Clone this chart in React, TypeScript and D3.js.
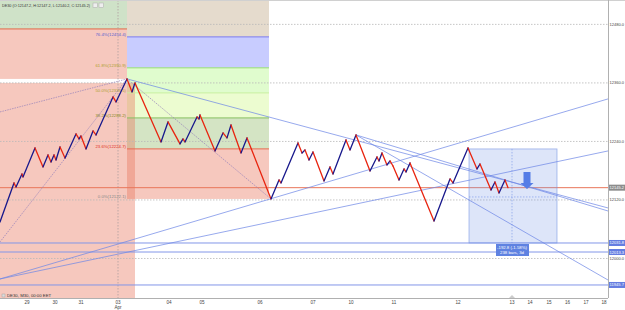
import * as d3 from 'd3'

const W = 625
const H = 310
const plotW = 608
const plotH = 298

// close-price pivots of the renko-like line (bar index, price)
const pivotBars = [0, 5.6, 6.4, 8.8, 9.2, 14, 17.2, 19.2, 20.4, 21.6, 22.4, 24, 26, 30.4, 31.6, 32.4, 34.4, 37.2, 38.4, 45.2, 46.4, 50.8, 52.8, 54, 64.4, 67.2, 72, 73.2, 74, 78.8, 79.6, 80, 86, 89.2, 90.8, 92.4, 96.4, 98.8, 108.4, 111.6, 112.4, 119.2, 120.8, 122, 123.6, 125.2, 129.6, 132, 133.2, 138.4, 140, 142.4, 148, 150.8, 151.6, 152.8, 154.8, 156, 157.2, 159.6, 161.6, 162.4, 164, 173.6, 180, 181.2, 187.2, 190.8, 192, 196.4, 198, 199.6, 202, 203.2]
const pivotPrices = [12074.9, 12154.9, 12146.7, 12173.3, 12167.2, 12226.7, 12187.7, 12212.3, 12197.9, 12212.3, 12202.0, 12228.7, 12206.1, 12255.4, 12245.1, 12251.3, 12224.6, 12261.5, 12253.3, 12331.3, 12321.0, 12368.2, 12341.5, 12360.0, 12239.0, 12280.0, 12234.9, 12245.1, 12239.0, 12290.2, 12286.1, 12294.3, 12220.5, 12257.4, 12247.2, 12273.8, 12216.4, 12247.2, 12122.1, 12161.0, 12154.9, 12236.9, 12216.4, 12222.6, 12202.0, 12218.4, 12159.0, 12187.7, 12173.3, 12243.1, 12222.6, 12253.3, 12179.5, 12208.2, 12200.0, 12216.4, 12191.8, 12200.0, 12189.7, 12161.0, 12183.6, 12177.4, 12195.9, 12076.9, 12163.1, 12154.9, 12226.7, 12183.6, 12193.8, 12140.5, 12156.9, 12134.4, 12161.0, 12145.2]

const gridPrices = [12480, 12360, 12240, 12120, 12000]
const dayLabels = ['29', '30', '31', '03', '04', '05', '06', '07', '10', '11', '12', '13', '14', '15', '16', '17', '18']
const dayBars = [10.8, 22, 32.4, 47.2, 67.6, 80.8, 104, 125.2, 140.4, 157.6, 183.2, 204.8, 212, 219.6, 227, 234.4, 241.6]

const currentPrice = 12145.2
const blueLevels = [12031.8, 12013.3, 11945.7]

// fibonacci retracement
const fibLow = 12122.1
const fibHigh = 12557.0
const fibStartBar = 50.8
const fibEndBar = 107.6
const fibPcts = [0, 0.236, 0.382, 0.5, 0.618, 0.764, 1]
const fibZoneFills = ['rgba(237,145,125,0.5)', 'rgba(169,201,137,0.5)', 'rgba(217,249,161,0.5)', 'rgba(193,249,157,0.5)', 'rgba(145,153,255,0.5)', 'rgba(203,183,155,0.5)']
const fibLineColors = ['none', '#e86a50', '#88c060', '#c8f0a0', '#98e070', '#7b7bf0']
const fibLabelColors = ['#888888', '#e03020', '#8a8a20', '#b0a030', '#b0a030', '#6060d0']

// trend lines [bar0, price0, bar1, price1]
const trendLines = [
  [0, 11958.0, 243.2, 12327.2],
  [0, 11958.0, 243.2, 12220.5],
  [50.8, 12368.2, 243.2, 12103.6],
  [142.4, 12253.3, 243.2, 11955.9],
  [142.4, 12253.3, 243.2, 12097.4],
]
const dottedLines = [
  [50.8, 12368.2, 108.4, 12122.1],
  [0, 12033.9, 50.8, 12368.2],
  [0, 12300.5, 50.8, 12368.2],
]

// left position boxes
const boxEndBar = 50.8
const box2EndBar = 54
const entryPrice = 12470.7
const box1Bottom = 12368.2
const box2Top = 12360.0

// projection box
const projStartBar = 187.6
const projEndBar = 222.8
const projTop = 12224.6
const projBottom = 12031.8
const projMidBar = 204.8
const projInner = 12126.2
const arrowBar = 210.8
const arrowTop = 12177.4
const arrowBottom = 12142.6

const todayBar = 47.2

export default function App() {
  const x = d3.scaleLinear().domain([0, 243.2]).range([0, plotW])
  const y = d3.scaleLinear().domain([11919, 12530]).range([plotH, 0])
  const [yMin] = y.domain()

  const fibPrice = (p: number) => fibLow + p * (fibHigh - fibLow)
  const fx0 = x(fibStartBar)
  const fx1 = x(fibEndBar)

  const segs = pivotBars.slice(1).map((b, i) => ({
    x1: x(pivotBars[i]), y1: y(pivotPrices[i]), x2: x(b), y2: y(pivotPrices[i + 1]),
    up: pivotPrices[i + 1] > pivotPrices[i],
  }))

  const diff = projBottom - projTop
  const pct = (diff / projTop) * 100

  const ax = x(arrowBar)
  const aT = y(arrowTop)
  const aB = y(arrowBottom)
  const arrowPath = `M${ax - 3.5},${aT} L${ax + 3.5},${aT} L${ax + 3.5},${aB - 6} L${ax + 6.5},${aB - 6} L${ax},${aB} L${ax - 6.5},${aB - 6} L${ax - 3.5},${aB - 6} Z`

  const font = "'Liberation Sans', Arial, sans-serif"
  const labW = 14.5

  return (
    <svg width={W} height={H} style={{ position: 'absolute', left: 0, top: 0, background: '#fff' }} fontFamily={font}>
      <defs>
        <clipPath id="plot"><rect x={0} y={0} width={plotW} height={plotH} /></clipPath>
      </defs>
      <g clipPath="url(#plot)">
        {/* fib zones */}
        {fibZoneFills.map((c, i) => (
          <rect key={'fz' + i} x={fx0} width={fx1 - fx0}
            y={y(fibPrice(fibPcts[i + 1]))} height={y(fibPrice(fibPcts[i])) - y(fibPrice(fibPcts[i + 1]))} fill={c} />
        ))}
        {/* left boxes */}
        <rect x={0} y={0} width={x(boxEndBar)} height={y(entryPrice)} fill="rgb(207,226,200)" />
        <rect x={0} y={y(entryPrice)} width={x(boxEndBar)} height={y(box1Bottom) - y(entryPrice)} fill="rgb(246,200,190)" />
        <rect x={0} y={y(box2Top)} width={x(box2EndBar)} height={y(yMin) - y(box2Top)} fill="rgba(232,117,93,0.4)" />
        <line x1={0} x2={x(boxEndBar)} y1={y(entryPrice)} y2={y(entryPrice)} stroke="#e06848" strokeWidth={1} />

        {/* grid */}
        {gridPrices.map(p => (
          <line key={'g' + p} x1={0} x2={plotW} y1={y(p)} y2={y(p)} stroke="#b8b8b8" strokeWidth={0.8} strokeDasharray="1.5,1.5" />
        ))}
        <line x1={x(todayBar)} x2={x(todayBar)} y1={0} y2={plotH} stroke="#b0a0a0" strokeWidth={0.8} strokeDasharray="1.5,1.5" />

        {/* fib lines + labels */}
        {fibPcts.slice(0, 6).map((p, i) => (
          <g key={'fl' + i}>
            {fibLineColors[i] !== 'none' && (
              <line x1={fx0} x2={fx1} y1={y(fibPrice(p))} y2={y(fibPrice(p))} stroke={fibLineColors[i]} strokeWidth={1} />
            )}
            <text x={fx0 - 1} y={y(fibPrice(p)) - 1} textAnchor="end" fontSize={4.3} fill={fibLabelColors[i]}>
              {`${(p * 100).toFixed(1)}%(${fibPrice(p).toFixed(1)})`}
            </text>
          </g>
        ))}

        {/* horizontal levels */}
        {blueLevels.map(p => (
          <line key={'b' + p} x1={0} x2={plotW} y1={y(p)} y2={y(p)} stroke="rgb(130,150,232)" strokeWidth={1} />
        ))}
        <line x1={0} x2={plotW} y1={y(currentPrice)} y2={y(currentPrice)} stroke="#e8765a" strokeWidth={1} />

        {/* projection box */}
        <rect x={x(projStartBar)} y={y(projTop)} width={x(projEndBar) - x(projStartBar)} height={y(projBottom) - y(projTop)}
          fill="rgba(120,150,230,0.25)" stroke="rgba(120,150,230,0.7)" strokeWidth={0.8} />
        <line x1={x(projMidBar)} x2={x(projMidBar)} y1={y(projTop)} y2={y(projBottom)} stroke="rgba(110,140,230,0.8)" strokeWidth={0.7} strokeDasharray="1.5,1.5" />
        <line x1={x(projStartBar)} x2={x(projEndBar)} y1={y(projInner)} y2={y(projInner)} stroke="rgba(110,140,230,0.8)" strokeWidth={0.7} strokeDasharray="1.5,1.5" />

        {/* trend lines */}
        {trendLines.map((l, i) => (
          <line key={'t' + i} x1={x(l[0])} y1={y(l[1])} x2={x(l[2])} y2={y(l[3])} stroke="rgba(110,135,230,0.9)" strokeWidth={0.8} />
        ))}
        {dottedLines.map((l, i) => (
          <line key={'d' + i} x1={x(l[0])} y1={y(l[1])} x2={x(l[2])} y2={y(l[3])} stroke="rgba(150,130,185,0.9)" strokeWidth={0.8} strokeDasharray="1.5,1" />
        ))}

        {/* price line */}
        {segs.map((s, i) => (
          <line key={'s' + i} x1={s.x1} y1={s.y1} x2={s.x2} y2={s.y2} stroke={s.up ? '#18188c' : '#e8240f'} strokeWidth={1.3} strokeLinecap="round" />
        ))}

        <path d={arrowPath} fill="rgb(85,125,230)" />

        {/* projection label */}
        <rect x={x(projMidBar) - 16} y={y(projBottom) + 1} width={33} height={12} fill="rgb(95,130,225)" />
        <text x={x(projMidBar)} y={y(projBottom) + 6} textAnchor="middle" fontSize={4.3} fill="#fff">
          {`${diff.toFixed(1)} (${pct.toFixed(2)}%)`}
        </text>
        <text x={x(projMidBar)} y={y(projBottom) + 11.5} textAnchor="middle" fontSize={4.3} fill="#fff">238 bars, 3d</text>

        {/* header */}
        <text x={2} y={7} fontSize={4.4} fill="#333" textLength={88} lengthAdjust="spacingAndGlyphs">
          DE30 (O:12147.2, H:12147.2, L:12140.2, C:12145.2)
        </text>
        <rect x={93} y={3} width={4.5} height={4.5} fill="#eee" stroke="#aaa" strokeWidth={0.5} />
        <rect x={99} y={3} width={4.5} height={4.5} fill="#eee" stroke="#aaa" strokeWidth={0.5} />
        <rect x={2} y={294} width={3} height={3} fill="#ddd" stroke="#999" strokeWidth={0.4} />
        <text x={7} y={297} fontSize={4.3} fill="#333">DE30, M30, 00:00 EET</text>
      </g>

      {/* frame */}
      <line x1={0} x2={W} y1={0.5} y2={0.5} stroke="#d0d0d0" strokeWidth={1} />
      <line x1={plotW + 0.5} x2={plotW + 0.5} y1={0} y2={plotH} stroke="#b0b0b0" strokeWidth={1} />
      <line x1={0} x2={plotW} y1={plotH + 0.5} y2={plotH + 0.5} stroke="#b0b0b0" strokeWidth={1} />

      {/* right axis labels */}
      {gridPrices.map(p => (
        <text key={'rl' + p} x={plotW + 1.5} y={y(p) + 1.5} fontSize={4.2} fill="#444" textLength={labW} lengthAdjust="spacingAndGlyphs">{p.toFixed(1)}</text>
      ))}
      <rect x={plotW + 1} y={y(currentPrice) - 3} width={16} height={6} fill="#8c8c8c" />
      <text x={plotW + 1.5} y={y(currentPrice) + 1.5} fontSize={4.2} fill="#fff" textLength={labW} lengthAdjust="spacingAndGlyphs">{currentPrice.toFixed(1)}</text>
      {blueLevels.map(p => (
        <g key={'bl' + p}>
          <rect x={plotW + 1} y={y(p) - 3} width={16} height={6} fill="rgb(100,125,225)" />
          <text x={plotW + 1.5} y={y(p) + 1.5} fontSize={4.2} fill="#fff" textLength={labW} lengthAdjust="spacingAndGlyphs">{p.toFixed(1)}</text>
        </g>
      ))}

      {/* bottom axis labels */}
      {dayLabels.map((d, i) => (
        <text key={'dl' + i} x={x(dayBars[i])} y={plotH + 6} textAnchor="middle" fontSize={4.6} fill="#444">{d}</text>
      ))}
      <text x={x(todayBar)} y={plotH + 11} textAnchor="middle" fontSize={4.6} fill="#444">Apr</text>
      <path d={`M${x(projMidBar) - 3},${plotH} L${x(projMidBar)},${plotH - 3} L${x(projMidBar) + 3},${plotH} Z`} fill="#ccc" />
    </svg>
  )
}
